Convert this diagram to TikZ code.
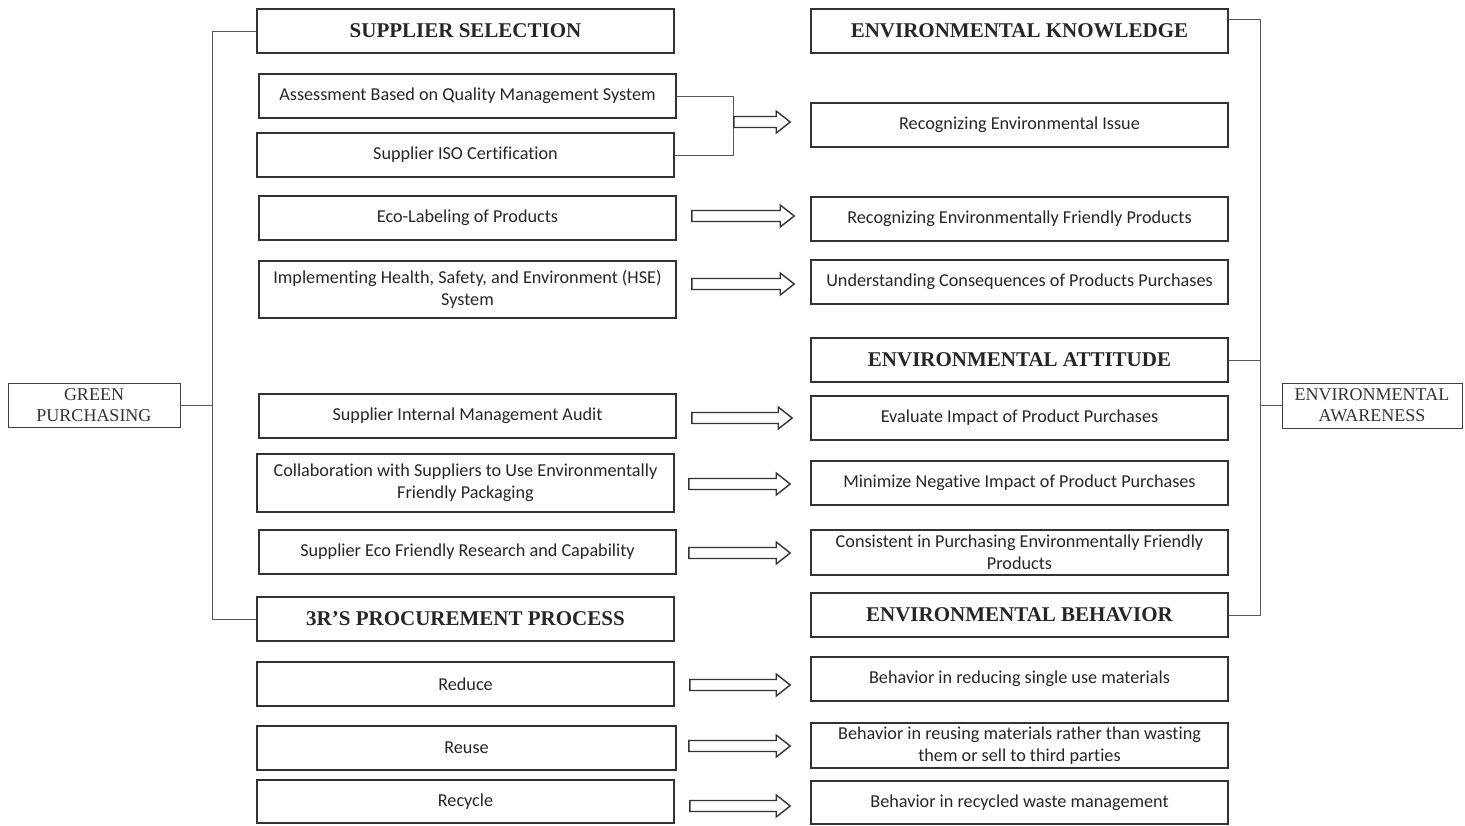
\documentclass[tikz,border=0pt]{standalone}
\usepackage{fontspec}
\setmainfont{Liberation Serif}
\newfontfamily\bodyfont[Ligatures={NoCommon}]{Carlito}
\usetikzlibrary{calc}
\newcommand\fatarrow[2]{%
  \draw[fat] let \p1=(#1), \p2=(#2) in
    (\x1,{\y1+5.5pt}) -- ({\x2-14pt},{\y1+5.5pt}) -- ({\x2-14pt},{\y1+11pt}) --
    (\x2,\y1) -- ({\x2-14pt},{\y1-11pt}) -- ({\x2-14pt},{\y1-5.5pt}) --
    (\x1,{\y1-5.5pt}) -- cycle;}
\begin{document}
\begin{tikzpicture}[x=1pt,y=-1pt,
  box/.style={draw=black!80,line width=1.6pt,minimum width=417pt,minimum height=44pt,
    inner sep=2pt,align=center,font=\bodyfont\fontsize{18.2}{22}\selectfont,text=black!85},
  hdr/.style={box,font=\bfseries\fontsize{21}{24}\selectfont},
  side/.style={draw=black!75,line width=1pt,minimum height=44pt,inner sep=1pt,
    align=center,font=\fontsize{18}{21}\selectfont,text=black!80},
  link/.style={draw=black!65,line width=0.9pt},
  fat/.style={draw=black!80,line width=1.4pt,line join=miter,fill=white},
]
\useasboundingbox (0,0) rectangle (1465,825);

% left column
\node[hdr] (ss) at (465.5,31) {SUPPLIER SELECTION};
\node[box] (qa) at (467.5,96) {Assessment Based on Quality Management System};
\node[box] (iso) at (465.5,155) {Supplier ISO Certification};
\node[box] (eco) at (467.5,218) {Eco-Labeling of Products};
\node[box,minimum height=57pt] (hse) at (467.5,289.5) {Implementing Health, Safety, and Environment (HSE)\\System};
\node[box] (audit) at (467.5,416) {Supplier Internal Management Audit};
\node[box,minimum height=58pt] (collab) at (465.5,483) {Collaboration with Suppliers to Use Environmentally\\Friendly Packaging};
\node[box] (rnd) at (467.5,552) {Supplier Eco Friendly Research and Capability};
\node[hdr] (r3) at (465.5,619) {3R’S PROCUREMENT PROCESS};
\node[box] (reduce) at (465.5,684) {Reduce};
\node[box,minimum width=419pt] (reuse) at (466.5,748) {Reuse};
\node[box,minimum height=43pt] (recycle) at (465.5,801.5) {Recycle};

% right column
\node[hdr] (ek) at (1019.5,31) {ENVIRONMENTAL KNOWLEDGE};
\node[box] (issue) at (1019.5,125) {Recognizing Environmental Issue};
\node[box] (prod) at (1019.5,219) {Recognizing Environmentally Friendly Products};
\node[box] (cons) at (1019.5,282) {Understanding Consequences of Products Purchases};
\node[hdr] (ea) at (1019.5,360) {ENVIRONMENTAL ATTITUDE};
\node[box] (eval) at (1019.5,418) {Evaluate Impact of Product Purchases};
\node[box] (minim) at (1019.5,483) {Minimize Negative Impact of Product Purchases};
\node[box,minimum height=45pt] (consist) at (1019.5,552.5) {Consistent in Purchasing Environmentally Friendly\\Products};
\node[hdr] (eb) at (1019.5,615) {ENVIRONMENTAL BEHAVIOR};
\node[box] (breduce) at (1019.5,679) {Behavior in reducing single use materials};
\node[box,minimum height=45pt] (breuse) at (1019.5,745.5) {Behavior in reusing materials rather than wasting\\them or sell to third parties};
\node[box,minimum height=43pt] (brecyc) at (1019.5,802.5) {Behavior in recycled waste management};

% side nodes
\node[side,minimum width=172pt] (gp) at (94,405) {GREEN\\PURCHASING};
\node[side,minimum width=180pt,minimum height=45pt] (aw) at (1372,405.5) {ENVIRONMENTAL\\AWARENESS};

% left bracket
\coordinate (lb) at ($(ss.west)+(-44,0)$);
\draw[link] (ss.west) -- (lb) -- (lb |- r3.west) -- (r3.west);
\draw[link] (gp.east) -- (gp.east -| lb);

% right bracket
\coordinate (rt) at ($(ek.north east)+(32,11)$);
\draw[link] ($(ek.north east)+(0,11)$) -- (rt) -- (rt |- eb.east) -- (eb.east);
\draw[link] (ea.east) -- (ea.east -| rt);
\draw[link] (rt |- aw.west) -- (aw.west);

% bracket joining first two boxes
\coordinate (bj) at ($(qa.east)+(57,26)$);
\draw[link] (qa.east) -- ++(57,0) |- (iso.east);
\fatarrow{bj}{$(bj -| issue.west)+(-20,0)$}

% arrows
\fatarrow{$(eco.east)+(15,-2)$}{$(eco.east -| prod.west)+(-16,-2)$}
\fatarrow{$(hse.east |- cons.west)+(15,2)$}{$(cons.west)+(-16,2)$}
\fatarrow{$(audit.east)+(15,2)$}{$(audit.east -| eval.west)+(-18,2)$}
\fatarrow{$(collab.east)+(14,1)$}{$(collab.east -| minim.west)+(-20,1)$}
\fatarrow{$(rnd.east)+(12,1)$}{$(rnd.east -| consist.west)+(-20,1)$}
\fatarrow{$(reduce.east)+(15,1)$}{$(reduce.east -| breduce.west)+(-20,1)$}
\fatarrow{$(reuse.east)+(12,-2)$}{$(reuse.east -| breuse.west)+(-20,-2)$}
\fatarrow{$(recycle.east)+(15,4.5)$}{$(recycle.east -| brecyc.west)+(-20,4.5)$}
\end{tikzpicture}
\end{document}
